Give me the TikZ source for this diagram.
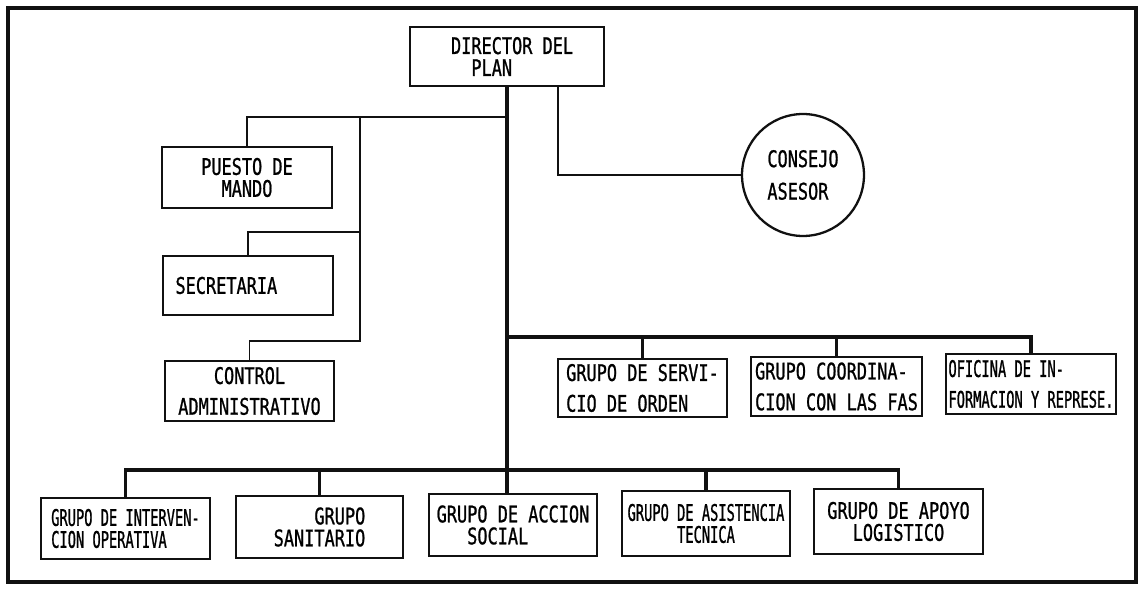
\documentclass[tikz,border=0pt]{standalone}
\usepackage{fontspec}
\setmainfont[FakeStretch=0.74,FakeBold=0.9]{DejaVu Sans Mono}
\newfontfamily\narrowfont[FakeStretch=0.60,FakeBold=0.9]{DejaVu Sans Mono}
\usetikzlibrary{calc}
\definecolor{inkBlack}{HTML}{111111}
\newcommand{\indentby}[1]{\hspace*{0pt}\phantom{#1}}

\begin{document}
\begin{tikzpicture}[x=0.02cm, y=-0.02cm,
  unit/.style={rectangle, draw=inkBlack, line width=1.3pt, inner sep=1pt, align=left, font=\fontsize{13}{12.5}\selectfont},
  unitn/.style={unit, font=\narrowfont\fontsize{13}{12.5}\selectfont},
  council/.style={circle, draw=inkBlack, line width=1.3pt, minimum size=2.44cm, inner sep=0pt, align=left, font=\fontsize{13}{12.5}\selectfont},
  link/.style={draw=inkBlack, line width=1pt},
  bus/.style={draw=inkBlack, line width=2.2pt}
]
\useasboundingbox (0,0) rectangle (1143,590);
\draw[inkBlack, line width=1.8pt] (8,8) rectangle (1136,582);

% direccion y staff
\node[unit, minimum width=3.88cm, minimum height=1.18cm] (director) at (507,56.5) {\indentby{X}DIRECTOR DEL\\\indentby{XXX}PLAN};
\node[unit, minimum width=3.4cm, minimum height=1.22cm] (puesto) at (247,177.5) {PUESTO DE\\\indentby{XX}MANDO};
\node[unit, minimum width=3.4cm, minimum height=1.18cm, text width=2.9cm] (secretaria) at (248,285.5) {SECRETARIA};
\node[unit, minimum width=3.38cm, minimum height=1.2cm, align=center] (control) at (249.5,391) {CONTROL\\[5pt]ADMINISTRATIVO};
\node[council] (consejo) at (803,175) {CONSEJO\\[6pt]ASESOR};

% grupos superiores
\node[unit, minimum width=3.38cm, minimum height=1.16cm] (servicio) at (642.5,388) {GRUPO DE SERVI-\\[5pt]CIO DE ORDEN};
\node[unit, minimum width=3.42cm, minimum height=1.18cm] (coordina) at (836.5,386.5) {GRUPO COORDINA-\\[5pt]CION CON LAS FAS};
\node[unitn, minimum width=3.4cm, minimum height=1.2cm] (oficina) at (1031,384) {OFICINA DE IN-\\[5pt]FORMACION Y REPRESE.};

% grupos inferiores
\node[unitn, minimum width=3.38cm, minimum height=1.22cm] (interv) at (125.5,528.5) {GRUPO DE INTERVEN-\\CION OPERATIVA};
\node[unit, minimum width=3.34cm, minimum height=1.24cm, align=right] (sanitario) at (319.5,527) {GRUPO\\SANITARIO};
\node[unit, minimum width=3.36cm, minimum height=1.24cm] (accion) at (513,525) {GRUPO DE ACCION\\\indentby{XXX}SOCIAL};
\node[unitn, minimum width=3.36cm, minimum height=1.3cm, align=center] (asistencia) at (706,523.5) {GRUPO DE ASISTENCIA\\TECNICA};
\node[unit, minimum width=3.38cm, minimum height=1.3cm, align=center] (apoyo) at (898.5,521.5) {GRUPO DE APOYO\\LOGISTICO};

% puntos de enlace
\coordinate (lbranch) at (507,117);
\coordinate (lvert) at (360,117);
\coordinate (sjoin) at (360,232);
\coordinate (cjoin) at (360,341);
\coordinate (cstart) at (558,86);
\coordinate (ubus) at (507,337);
\coordinate (lbus) at (507,470);

% enlaces
\draw[bus] (director.south) -- (director.south |- accion.north);
\draw[link] (lbranch) -| (puesto.north);
\draw[link] (lvert) -- (cjoin) -| (control.north);
\draw[link] (sjoin) -| (secretaria.north);
\draw[link] (cstart) |- (consejo.west);
\draw[bus] (ubus) -| (oficina.north);
\draw[bus] (servicio.north) -- (servicio.north |- ubus);
\draw[bus] (coordina.north) -- (coordina.north |- ubus);
\draw[bus] (interv.north) |- (lbus) -| (apoyo.north);
\draw[bus] (sanitario.north) -- (sanitario.north |- lbus);
\draw[bus] (asistencia.north) -- (asistencia.north |- lbus);
\end{tikzpicture}
\end{document}
